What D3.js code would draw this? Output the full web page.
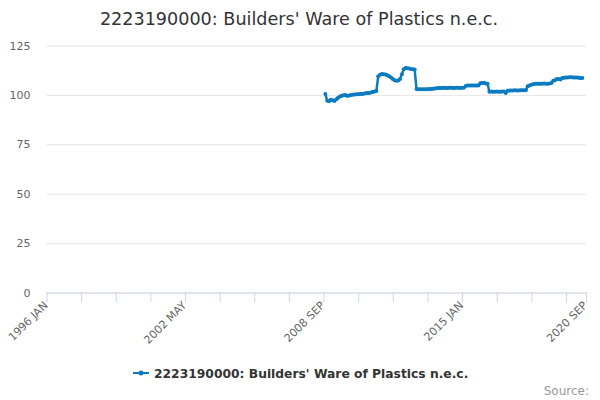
<!DOCTYPE html>
<html>
<head>
<meta charset="utf-8">
<script src="https://cdn.jsdelivr.net/npm/d3@7"></script>
<style>
  body { margin: 0; background: #fff; }
  svg { font-family: "DejaVu Sans", Verdana, sans-serif; }
</style>
</head>
<body>
<svg id="drawing_region"></svg>
<script>
// month labels, 1996 JAN .. 2020 SEP
const monthNames = ["JAN","FEB","MAR","APR","MAY","JUN","JUL","AUG","SEP","OCT","NOV","DEC"];
const categories = [];
for (let y = 1996; y <= 2020; y++) {
  monthNames.forEach((mn, i) => {
    if (y < 2020 || i <= 8) categories.push(y + " " + mn);
  });
}

const seriesName = "2223190000: Builders' Ware of Plastics n.e.c.";
const firstMonth = "2008 OCT";
// index values, read month by month from 2008 OCT
const values = [
  100.5, 97.0, 96.8, 97.5, 97.3, 96.9, 97.8, 98.6, 99.2, 99.6, 99.8, 99.9,
  99.5, 99.7, 100.0, 100.1, 100.2, 100.3, 100.3, 100.4, 100.5, 100.6, 100.8, 101.0,
  101.0, 101.2, 101.5, 101.7, 102.0, 109.5, 110.2, 110.6, 110.5, 110.3, 110.0, 109.5,
  108.8, 108.0, 107.4, 107.2, 107.3, 108.0, 110.5, 113.0, 113.6, 113.5, 113.3, 113.1,
  113.0, 112.8, 103.0, 102.8, 102.8, 102.9, 102.9, 102.9, 102.9, 103.0, 103.0, 103.1,
  103.2, 103.4, 103.5, 103.5, 103.5, 103.6, 103.5, 103.5, 103.6, 103.6, 103.5, 103.5,
  103.6, 103.6, 103.5, 103.6, 103.6, 104.5, 104.7, 104.7, 104.8, 104.7, 104.7, 104.8,
  104.8, 105.9, 106.0, 106.1, 105.8, 105.6, 101.6, 101.7, 101.6, 101.6, 101.7, 101.6,
  101.6, 101.7, 101.7, 100.9, 102.1, 102.2, 102.2, 102.2, 102.3, 102.2, 102.2, 102.3,
  102.3, 102.3, 102.4, 104.4, 104.8, 105.1, 105.4, 105.6, 105.7, 105.7, 105.6, 105.7,
  105.8, 105.7, 105.7, 105.8, 106.0, 107.2, 107.4, 108.0, 108.0, 107.8, 108.5, 108.7,
  108.8, 108.8, 108.9, 108.9, 108.8, 108.8, 108.8, 108.7, 108.6, 108.6
];
const yTicks = [0, 25, 50, 75, 100, 125];
const xLabelMonths = ["1996 JAN", "2002 MAY", "2008 SEP", "2015 JAN", "2020 SEP"];

const config = {
  width: 600, height: 400,
  left: 46.5, right: 586, top: 45.5, bottom: 292.5,
  color: "#0b7cc1"
};

const start = categories.indexOf(firstMonth);
const data = values.map((v, i) => ({ i: start + i, v: v }));

const svg = d3.select("#drawing_region")
  .attr("width", config.width)
  .attr("height", config.height);

const x_scale = d3.scaleLinear()
  .domain([0, categories.length - 1])
  .range([config.left, config.right]);

const y_scale = d3.scaleLinear()
  .domain([0, 125])
  .range([config.bottom, config.top]);

// title
svg.append("text")
  .attr("x", 299).attr("y", 25)
  .attr("text-anchor", "middle")
  .attr("font-size", 17.6)
  .attr("fill", "#333")
  .text(seriesName);

// y grid + labels
const y_axis = d3.axisLeft(y_scale)
  .tickValues(yTicks)
  .tickSize(-(config.right - config.left))
  .tickPadding(16);

svg.append("g")
  .attr("transform", `translate(${config.left},0)`)
  .call(y_axis)
  .call(g => g.select(".domain").remove())
  .call(g => g.selectAll(".tick line").attr("stroke", "#e6e6e6"))
  .call(g => g.selectAll(".tick text")
    .attr("fill", "#666").attr("font-size", 11)
    .attr("font-family", "DejaVu Sans"));

// x axis: ticks every 19 months, labels every 4th tick plus the last month
const tickIdx = d3.range(0, categories.length, 19).concat([categories.length - 1]);
const x_axis = d3.axisBottom(x_scale)
  .tickValues(tickIdx)
  .tickSize(10)
  .tickFormat(d => xLabelMonths.includes(categories[d]) ? categories[d] : "");

svg.append("g")
  .attr("transform", `translate(0,${config.bottom})`)
  .call(x_axis)
  .call(g => g.select(".domain").attr("stroke", "#ccd6eb").attr("d", `M${config.left},0.5H${config.right}`))
  .call(g => g.selectAll(".tick line").attr("stroke", "#ccd6eb"))
  .call(g => g.selectAll(".tick text")
    .attr("fill", "#666").attr("font-size", 11)
    .attr("font-family", "DejaVu Sans")
    .attr("text-anchor", "end")
    .attr("x", 0).attr("y", 0).attr("dy", 0)
    .attr("transform", "translate(1.5,13.5) rotate(-45)"));

// series
const line = d3.line()
  .x(d => x_scale(d.i))
  .y(d => y_scale(d.v));

svg.append("path")
  .attr("d", line(data))
  .attr("fill", "none")
  .attr("stroke", config.color)
  .attr("stroke-width", 2.5)
  .attr("stroke-linejoin", "round");

svg.append("g").selectAll("circle")
  .data(data)
  .enter()
  .append("circle")
  .attr("cx", d => x_scale(d.i))
  .attr("cy", d => y_scale(d.v))
  .attr("r", 2)
  .attr("fill", config.color);

// legend
const legend = svg.append("g").attr("transform", "translate(133,373)");
legend.append("line")
  .attr("x1", 0).attr("x2", 16)
  .attr("stroke", config.color).attr("stroke-width", 2);
legend.append("circle")
  .attr("cx", 8).attr("r", 2.5).attr("fill", config.color);
legend.append("text")
  .attr("x", 21).attr("y", 4.5)
  .attr("font-size", 12.3).attr("font-weight", "bold")
  .attr("fill", "#333")
  .text(seriesName);

// credits
svg.append("text")
  .attr("x", 589).attr("y", 395)
  .attr("text-anchor", "end")
  .attr("font-size", 12)
  .attr("fill", "#999")
  .text("Source:");
</script>
</body>
</html>
